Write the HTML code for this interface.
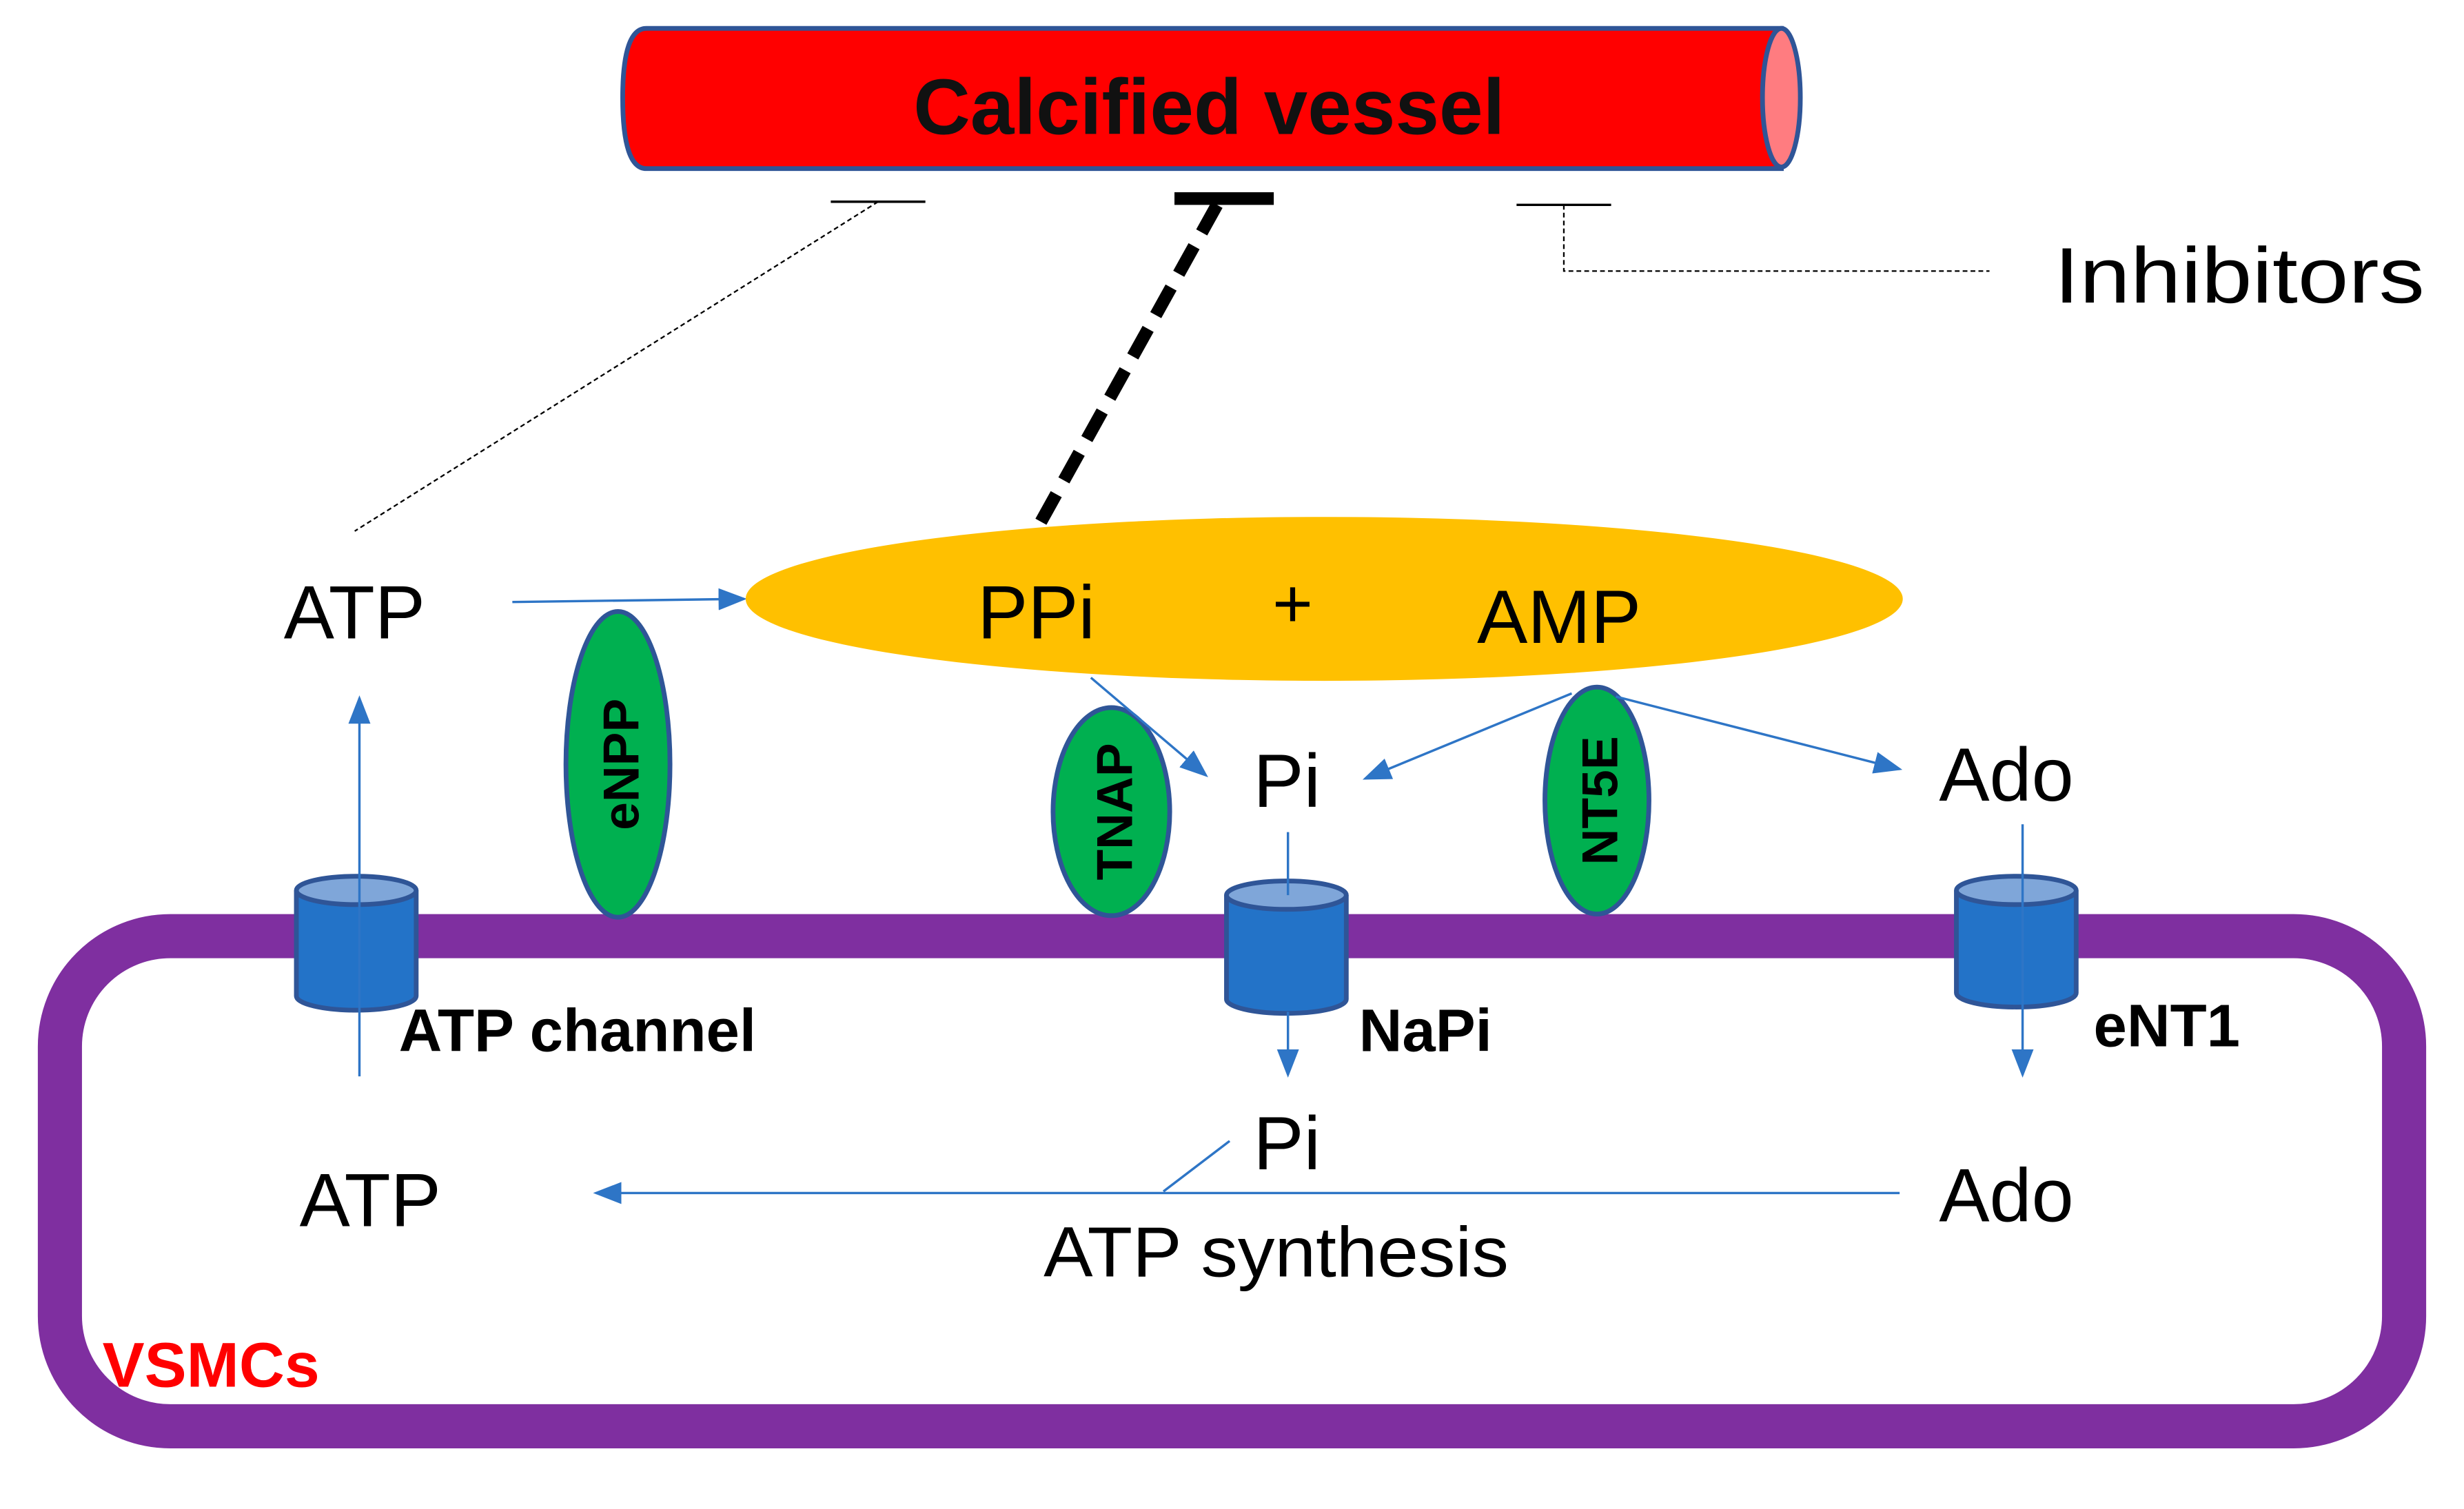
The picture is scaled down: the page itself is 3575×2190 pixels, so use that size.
<!DOCTYPE html>
<html><head><meta charset="utf-8"><style>html,body{margin:0;padding:0;background:#fff}svg{display:block}</style></head>
<body>
<svg width="3575" height="2190" viewBox="0 0 1563 957.5" preserveAspectRatio="none" xmlns="http://www.w3.org/2000/svg" font-family="Liberation Sans, sans-serif">
<defs>
<marker id="ar2" viewBox="0 0 10 10" refX="9" refY="5" markerWidth="18" markerHeight="14" orient="auto" markerUnits="userSpaceOnUse" preserveAspectRatio="none"><path d="M0,0 L10,5 L0,10 z" fill="#2E75C6"/></marker>
</defs>
<!-- vessel -->
<path d="M410,18 H1130 V107 H410 Q395,107 395,62 Q395,18 410,18 Z" fill="#FF0000" stroke="#2F5597" stroke-width="3"/>
<ellipse cx="1130" cy="62" rx="12" ry="44" fill="#FF7C80" stroke="#2F5597" stroke-width="3"/>
<text x="767" y="85" font-size="50" font-weight="bold" text-anchor="middle" fill="#111">Calcified vessel</text>
<!-- inhibitor bars -->
<line x1="527" y1="128" x2="587" y2="128" stroke="#000" stroke-width="1.5"/>
<line x1="745" y1="126" x2="808" y2="126" stroke="#000" stroke-width="8"/>
<line x1="962" y1="130" x2="1022" y2="130" stroke="#000" stroke-width="1.5"/>
<line x1="557" y1="128" x2="225" y2="337" stroke="#000" stroke-width="1" stroke-dasharray="3,2"/>
<line x1="772" y1="130" x2="657" y2="337" stroke="#000" stroke-width="8" stroke-dasharray="20,10"/>
<polyline points="992,130 992,172 1262,172" fill="none" stroke="#000" stroke-width="1" stroke-dasharray="3,2"/>
<text x="1303" y="192" font-size="50" textLength="235" lengthAdjust="spacingAndGlyphs">Inhibitors</text>
<!-- cell -->
<rect x="38" y="594" width="1487" height="311" rx="70" fill="none" stroke="#7F2FA0" stroke-width="28"/>
<!-- top ATP -->
<text x="180" y="405" font-size="48">ATP</text>
<line x1="325" y1="382" x2="472" y2="380" stroke="#2E75C6" stroke-width="1.5" marker-end="url(#ar2)"/>
<ellipse cx="840" cy="380" rx="367" ry="52" fill="#FFC000"/>
<text x="620" y="405" font-size="48">PPi</text>
<text x="820" y="398" font-size="44" text-anchor="middle">+</text>
<text x="937" y="408" font-size="48">AMP</text>
<!-- enzymes -->
<ellipse cx="392" cy="485" rx="33" ry="97" fill="#00B050" stroke="#2F5597" stroke-width="3"/>
<text transform="translate(405,485) rotate(-90)" font-size="32" font-weight="bold" text-anchor="middle">eNPP</text>
<ellipse cx="705" cy="515" rx="37" ry="66" fill="#00B050" stroke="#2F5597" stroke-width="3"/>
<text transform="translate(718,515) rotate(-90)" font-size="32" font-weight="bold" text-anchor="middle">TNAP</text>
<ellipse cx="1013" cy="508" rx="33" ry="72" fill="#00B050" stroke="#2F5597" stroke-width="3"/>
<text transform="translate(1026,508) rotate(-90)" font-size="32" font-weight="bold" text-anchor="middle">NT5E</text>
<!-- Pi, Ado top -->
<text x="795" y="512" font-size="48">Pi</text>
<line x1="692" y1="430" x2="765" y2="492" stroke="#2E75C6" stroke-width="1.5" marker-end="url(#ar2)"/>
<line x1="997" y1="440" x2="866" y2="494" stroke="#2E75C6" stroke-width="1.5" marker-end="url(#ar2)"/>
<line x1="1025" y1="442" x2="1205" y2="488" stroke="#2E75C6" stroke-width="1.5" marker-end="url(#ar2)"/>
<text x="1230" y="508" font-size="48">Ado</text>
<!-- channels -->
<g stroke="#2F5597" stroke-width="3">
<path d="M188,565 V632 A38,9 0 0 0 264,632 V565" fill="#2373C8"/>
<ellipse cx="226" cy="565" rx="38" ry="9" fill="#7FA6D9"/>
<path d="M778,568 V634 A38,9 0 0 0 854,634 V568" fill="#2373C8"/>
<ellipse cx="816" cy="568" rx="38" ry="9" fill="#7FA6D9"/>
<path d="M1241,565 V630 A38,9 0 0 0 1317,630 V565" fill="#2373C8"/>
<ellipse cx="1279" cy="565" rx="38" ry="9" fill="#7FA6D9"/>
</g>
<line x1="228" y1="683" x2="228" y2="443" stroke="#2E75C6" stroke-width="1.5" marker-end="url(#ar2)"/>
<line x1="817" y1="528" x2="817" y2="568" stroke="#2E75C6" stroke-width="1.5"/>
<line x1="817" y1="642" x2="817" y2="682" stroke="#2E75C6" stroke-width="1.5" marker-end="url(#ar2)"/>
<line x1="1283" y1="523" x2="1283" y2="682" stroke="#2E75C6" stroke-width="1.5" marker-end="url(#ar2)"/>
<text x="253" y="667" font-size="38" font-weight="bold">ATP channel</text>
<text x="862" y="667" font-size="38" font-weight="bold">NaPi</text>
<text x="1328" y="664" font-size="38" font-weight="bold">eNT1</text>
<!-- bottom -->
<text x="795" y="742" font-size="48">Pi</text>
<line x1="780" y1="724" x2="738" y2="756" stroke="#2E75C6" stroke-width="1.5"/>
<line x1="1205" y1="757" x2="378" y2="757" stroke="#2E75C6" stroke-width="1.5" marker-end="url(#ar2)"/>
<text x="190" y="778" font-size="48">ATP</text>
<text x="1230" y="775" font-size="48">Ado</text>
<text x="662" y="810" font-size="45" textLength="295" lengthAdjust="spacingAndGlyphs">ATP synthesis</text>
<text x="65" y="880" font-size="40" font-weight="bold" fill="#FF0000">VSMCs</text>
</svg>
</body></html>
